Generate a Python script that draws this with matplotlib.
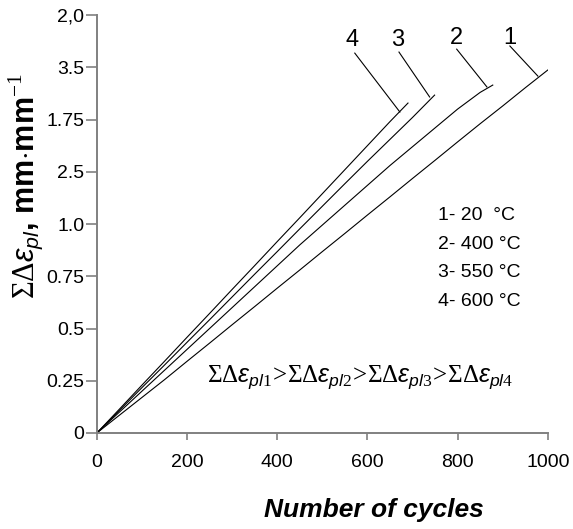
import matplotlib
matplotlib.use("Agg")
import matplotlib.pyplot as plt

plt.rcParams['font.family'] = ['Liberation Sans', 'DejaVu Sans']
plt.rcParams['mathtext.fontset'] = 'custom'
plt.rcParams['mathtext.rm'] = 'Liberation Serif'
plt.rcParams['mathtext.it'] = 'Liberation Sans:italic'
plt.rcParams['mathtext.bf'] = 'Liberation Sans:bold'

# Cumulative plastic strain vs number of cycles
cycles_1 = [0, 50, 100, 150, 200, 250, 300, 350, 400, 450, 500, 550, 600,
            650, 700, 750, 800, 850, 900, 950, 1000]
strain_1 = [0, 0.085, 0.17, 0.255, 0.343, 0.43, 0.518, 0.605, 0.693, 0.78,
            0.868, 0.955, 1.043, 1.13, 1.218, 1.305, 1.393, 1.48, 1.565,
            1.652, 1.737]

cycles_2 = [0, 50, 100, 150, 200, 250, 300, 350, 400, 450, 500, 550, 600,
            650, 700, 750, 800, 850, 878]
strain_2 = [0, 0.1, 0.2, 0.3, 0.4, 0.5, 0.6, 0.7, 0.8, 0.9, 0.995, 1.09,
            1.185, 1.28, 1.37, 1.46, 1.55, 1.63, 1.665]

cycles_3 = [0, 50, 100, 150, 200, 250, 300, 350, 400, 450, 500, 550, 600,
            650, 700, 749]
strain_3 = [0, 0.108, 0.217, 0.325, 0.434, 0.542, 0.651, 0.76, 0.868, 0.977,
            1.085, 1.193, 1.3, 1.405, 1.51, 1.617]

cycles_4 = [0, 50, 100, 150, 200, 250, 300, 350, 400, 450, 500, 550, 600,
            650, 690]
strain_4 = [0, 0.114, 0.229, 0.343, 0.458, 0.572, 0.687, 0.801, 0.916, 1.03,
            1.145, 1.26, 1.375, 1.49, 1.579]

curve_labels = ['1', '2', '3', '4']
legend_lines = ['1- 20  °C', '2- 400 °C', '3- 550 °C', '4- 600 °C']

x_ticks = [0, 200, 400, 600, 800, 1000]
y_ticks = [0, 0.25, 0.5, 0.75, 1.0, 1.25, 1.5, 1.75, 2.0]
y_tick_labels = ['0', '0.25', '0.5', '0.75', '1.0', '2.5', '1.75', '3.5', '2,0']

fig = plt.figure(figsize=(5.73, 5.29), dpi=100)
ax = fig.add_axes([0.169, 0.1815, 0.787, 0.79])

for xs, ys in [(cycles_1, strain_1), (cycles_2, strain_2),
               (cycles_3, strain_3), (cycles_4, strain_4)]:
    ax.plot(xs, ys, color='black', lw=0.8)

# leader lines from the curve numbers to the curve ends
leaders = {
    '4': ((565, 1.88), (572, 1.818), (672, 1.536)),
    '3': ((667, 1.88), (670, 1.823), (738, 1.608)),
    '2': ((798, 1.89), (798, 1.837), (865, 1.656)),
    '1': ((916, 1.89), (916, 1.852), (978, 1.708)),
}
for lab in curve_labels:
    (tx, ty), (x0, y0), (x1, y1) = leaders[lab]
    ax.plot([x0, x1], [y0, y1], color='black', lw=0.8)
    ax.text(tx, ty, lab, fontsize=17, ha='center', va='center')

for i, line in enumerate(legend_lines):
    ax.text(756, 1.04 - i * 0.137, line, fontsize=14, ha='left', va='center')

ax.text(245, 0.268,
        r'$\Sigma\Delta\varepsilon_{pl1}\!>\!\Sigma\Delta\varepsilon_{pl2}\!>\!'
        r'\Sigma\Delta\varepsilon_{pl3}\!>\!\Sigma\Delta\varepsilon_{pl4}$',
        fontsize=18, ha='left', va='center')

ax.set_xlim(0, 1000)
ax.set_ylim(0, 2.0)
ax.set_xticks(x_ticks)
ax.set_yticks(y_ticks)
ax.set_yticklabels(y_tick_labels)
ax.tick_params(labelsize=14, colors='black', width=1.2, color='#808080')
ax.tick_params(axis='y', length=8, pad=1)
ax.tick_params(axis='x', length=5, pad=10)
for side in ['top', 'right']:
    ax.spines[side].set_visible(False)
for side in ['left', 'bottom']:
    ax.spines[side].set_color('#808080')
    ax.spines[side].set_linewidth(1.4)

ax.set_xlabel('Number of cycles', fontsize=19, fontweight='bold',
              fontstyle='italic')
ax.xaxis.set_label_coords(0.615, -0.155)
ax.set_ylabel(r'$\Sigma\Delta\varepsilon_{pl}$, mm$\cdot$mm$^{-1}$',
              fontsize=22, fontweight='bold')
ax.yaxis.set_label_coords(-0.115, 0.59)

fig.savefig('out.png', dpi=100)
